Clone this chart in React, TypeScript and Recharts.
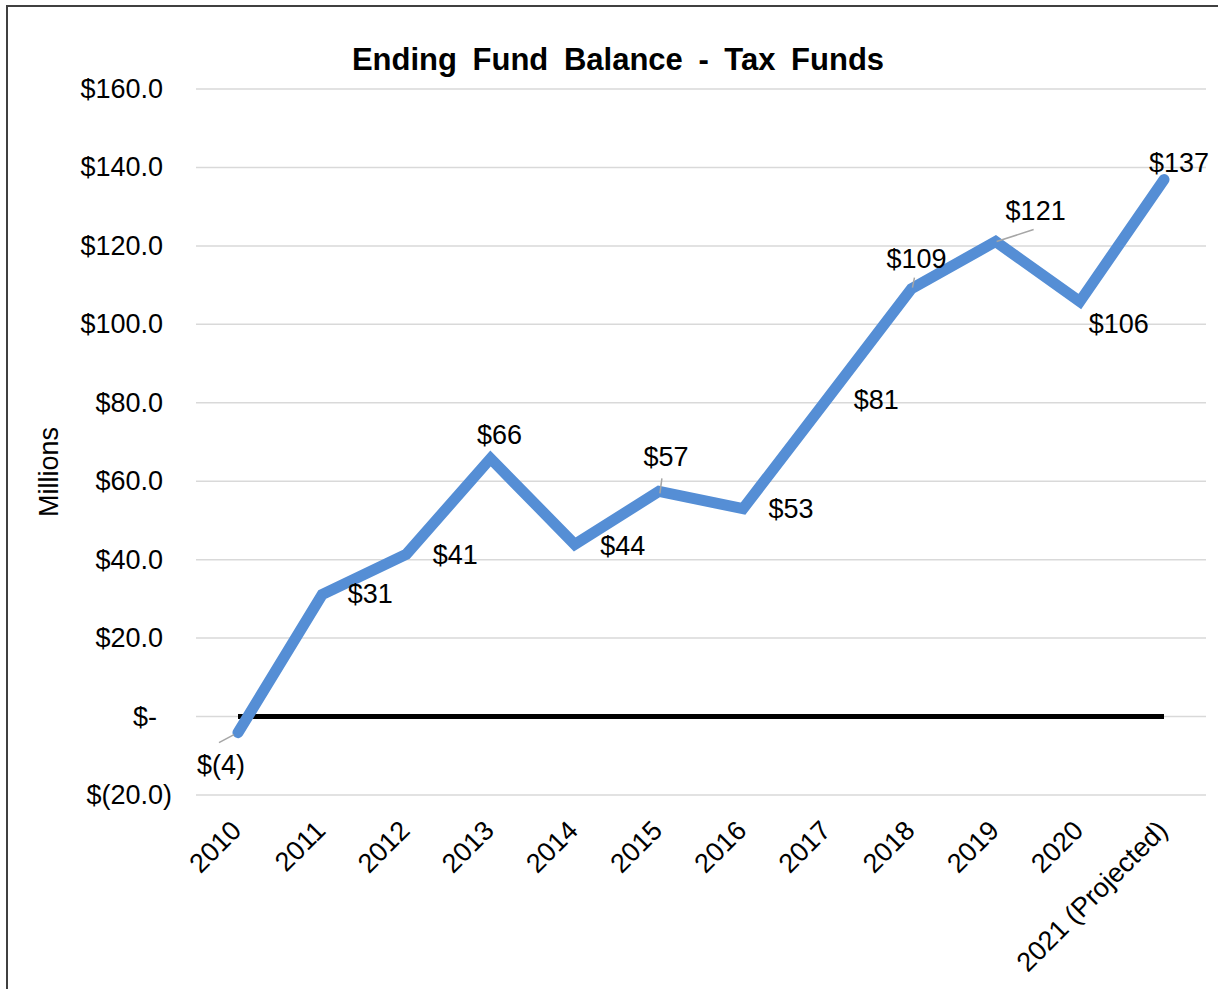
import { LineChart, Line, XAxis, YAxis, CartesianGrid } from "recharts"

const years = ["2010", "2011", "2012", "2013", "2014", "2015", "2016", "2017", "2018", "2019", "2020", "2021 (Projected)"]
const balances = [-4.1, 31.1, 41.4, 65.8, 43.9, 57.4, 53.0, 81.0, 109.1, 121.1, 105.8, 136.9]
const baseline = [0, 0, 0, 0, 0, 0, 0, 0, 0, 0, 0, 0]
const yTicks = [-20, 0, 20, 40, 60, 80, 100, 120, 140, 160]

// where each data label sits relative to its point (dx, dy)
const labelOffsets = [
  [-17, 32], [48, -1], [49, 1], [9, -23], [48, 2], [7, -34],
  [48, 0], [49, 1], [5, -30], [40, -31], [39, 22], [15, -17],
]
// leader lines for the labels that Excel moved
const leaders: Record<number, number[]> = {
  0: [-19, 10, -4, 2],
  5: [3, -13, 1, 2],
  8: [3, -11, 1, -1],
  9: [1, 0, 38, -12],
}

const data = years.map((year, i) => ({ year, balance: balances[i], zero: baseline[i] }))

const FONT = '"Liberation Sans", Arial, sans-serif'
const BLUE = "#558ed5"

const fmtTick = (v: number) => {
  if (v < 0) return `$(${Math.abs(v).toFixed(1)})`
  if (v === 0) return "$-"
  return `$${v.toFixed(1)}`
}

const fmtLabel = (v: number) => (v < 0 ? `$(${Math.round(Math.abs(v))})` : `$${Math.round(v)}`)

function YTick(props: any) {
  const { x, y, payload } = props
  const v = payload.value
  const end = v < 0 ? x - 24 : v === 0 ? x - 39 : x - 33
  return (
    <text x={end} y={y} textAnchor="end" dominantBaseline="central" fontSize={27} fontFamily={FONT} fill="#000">
      {fmtTick(v)}
    </text>
  )
}

function XTick(props: any) {
  const { x, y, payload } = props
  const ax = x + 5
  const ay = y + 37
  return (
    <text x={ax} y={ay} textAnchor="end" transform={`rotate(-45, ${ax}, ${ay})`} fontSize={27} fontFamily={FONT} fill="#000">
      {payload.value}
    </text>
  )
}

function PointLabel(props: any) {
  const { x, y, value } = props
  const index = props.index ?? balances.indexOf(value)
  const off = labelOffsets[index] || [0, -20]
  const lead = leaders[index]
  return (
    <g>
      {lead && (
        <line x1={x + lead[0]} y1={y + lead[1]} x2={x + lead[2]} y2={y + lead[3]} stroke="#a6a6a6" strokeWidth={1.5} />
      )}
      <text x={x + off[0]} y={y + off[1]} textAnchor="middle" dominantBaseline="central" fontSize={27} fontFamily={FONT} fill="#000">
        {fmtLabel(value)}
      </text>
    </g>
  )
}

export default function App() {
  return (
    <div style={{ position: "absolute", left: 0, top: 0, width: 1218, height: 989, overflow: "hidden", background: "#fff" }}>
      <div
        style={{
          position: "absolute",
          left: 6,
          top: 5,
          width: 1230,
          height: 1000,
          borderLeft: "2px solid #404040",
          borderTop: "2px solid #404040",
        }}
      />
      <div style={{ position: "absolute", left: 0, top: 0 }}>
        <LineChart width={1218} height={989} data={data} margin={{ top: 89, right: 12, bottom: 44, left: 0 }}>
          <CartesianGrid vertical={false} stroke="#d9d9d9" strokeWidth={1.5} />
          <XAxis
            dataKey="year"
            interval={0}
            height={150}
            padding={{ left: 42, right: 42 }}
            axisLine={false}
            tickLine={false}
            tickSize={0}
            tickMargin={0}
            tick={<XTick />}
          />
          <YAxis
            width={196}
            domain={[-20, 160]}
            ticks={yTicks}
            interval={0}
            axisLine={false}
            tickLine={false}
            tickSize={0}
            tickMargin={0}
            tick={<YTick />}
          />
          <Line dataKey="zero" stroke="#000" strokeWidth={5} dot={false} activeDot={false} isAnimationActive={false} />
          <Line
            dataKey="balance"
            stroke={BLUE}
            strokeWidth={11}
            strokeLinecap="round"
            strokeLinejoin="miter"
            dot={false}
            activeDot={false}
            isAnimationActive={false}
            label={<PointLabel />}
          />
        </LineChart>
      </div>
      <svg width={1218} height={989} style={{ position: "absolute", left: 0, top: 0, pointerEvents: "none" }}>
        <text x={618} y={70} textAnchor="middle" fontSize={31} fontWeight="bold" fontFamily={FONT} wordSpacing={7} fill="#000">
          Ending Fund Balance - Tax Funds
        </text>
        <text
          x={58}
          y={472}
          textAnchor="middle"
          fontSize={27}
          fontFamily={FONT}
          fill="#000"
          transform="rotate(-90, 58, 472)"
        >
          Millions
        </text>
      </svg>
    </div>
  )
}
